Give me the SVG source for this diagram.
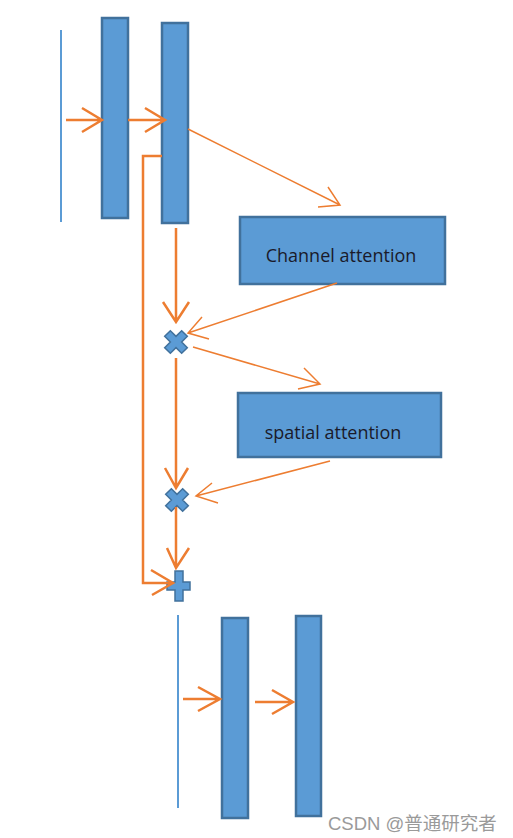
<svg xmlns="http://www.w3.org/2000/svg" width="513" height="838" viewBox="0 0 513 838">
<style>
.blk{fill:#5B9BD5;stroke:#41719C;stroke-width:2.5}
.thin{stroke:#5B9BD5;stroke-width:2;fill:none}
.thick{stroke:#ED7D31;stroke-width:2.5;fill:none}
.lite{stroke:#ED7D31;stroke-width:1.5;fill:none}
.sym{fill:#5B9BD5;stroke:#41719C;stroke-width:1.5}
.lbl{font-family:"Open Sans","Liberation Sans",sans-serif;font-size:18px;fill:#1a1a2a;text-anchor:middle}
.wm{font-family:"Liberation Sans","Noto Sans CJK SC",sans-serif;font-size:18.5px;fill:#9a9a9a}
</style>
<rect width="513" height="838" fill="#ffffff"/>
<g id="input-line"><line class="thin" x1="61" y1="30" x2="61" y2="222"/></g>
<g id="feat1"><rect class="blk" x="102" y="18" width="26" height="200"/></g>
<g id="feat2"><rect class="blk" x="162" y="23" width="26" height="200"/></g>
<g id="channel-attention"><rect class="blk" x="240" y="217" width="205" height="67"/><text class="lbl" x="341" y="262">Channel attention</text></g>
<g id="spatial-attention"><rect class="blk" x="238" y="393" width="203" height="64"/><text class="lbl" x="333" y="439">spatial attention</text></g>
<g id="mul1"><path class="sym" transform="translate(176,342) rotate(45)" d="M-4,-12 H4 V-4 H12 V4 H4 V12 H-4 V4 H-12 V-4 H-4 Z"/></g>
<g id="mul2"><path class="sym" transform="translate(177,500) rotate(45)" d="M-4,-12 H4 V-4 H12 V4 H4 V12 H-4 V4 H-12 V-4 H-4 Z"/></g>
<g id="add"><path class="sym" d="M175,571 H183 V582 H190 V590 H183 V601 H175 V590 H167 V582 H175 Z"/></g>
<g id="out-line"><line class="thin" x1="178" y1="615" x2="178" y2="808"/></g>
<g id="feat3"><rect class="blk" x="222" y="618" width="26" height="200"/></g>
<g id="feat4"><rect class="blk" x="296" y="616" width="25" height="200"/></g>
<g id="connectors">
<path class="thick" d="M66,120 H102 M82,108 L102,120 L82,132"/>
<path class="thick" d="M128,120 H165 M145,108 L165,120 L145,132"/>
<path class="lite" d="M188,129 L340,205 M328,187 L340,205 L318,207"/>
<path class="thick" d="M176,228 V322 M163,302 L176,322 L189,302"/>
<path class="lite" d="M337,283 L188,333 M202,317 L188,333 L209,339"/>
<path class="lite" d="M193,347 L320,384 M304,368 L320,384 L298,389"/>
<path class="thick" d="M176,358 V488 M165,468 L176,488 L188,468"/>
<path class="lite" d="M330,461 L196,496 M212,483 L196,496 L218,503"/>
<path class="thick" d="M176,507 V568 M167,548 L176,568 L189,548"/>
<path class="thick" d="M162,156 H143 V583 H173 M151,570 L173,583 L152,595"/>
<path class="thick" d="M183,699 H220 M198,687 L220,699 L198,711"/>
<path class="thick" d="M255,702 H293 M272,690 L293,702 L272,714"/>
</g>
<text class="wm" x="328" y="830">CSDN @普通研究者</text>
</svg>
